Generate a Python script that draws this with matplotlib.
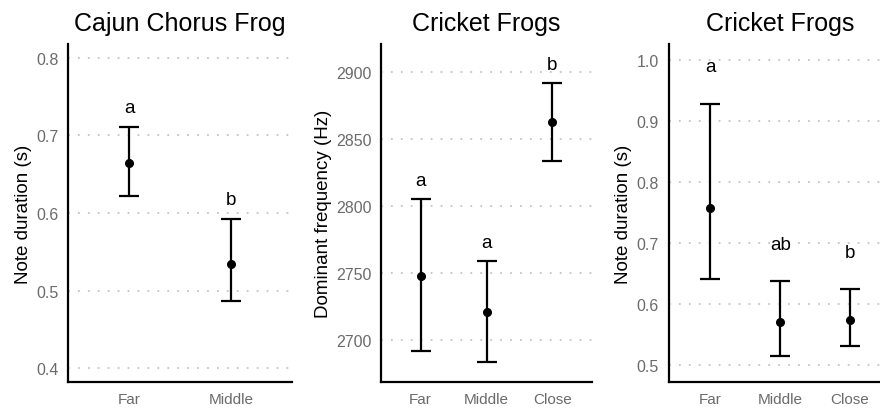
import matplotlib
matplotlib.use("Agg")
import matplotlib.pyplot as plt

plt.rcParams['font.family'] = ['Liberation Sans', 'DejaVu Sans']

# Panel 1: Cajun Chorus Frog, note duration
p1_cats = ["Far", "Middle"]
p1_mean = [0.664, 0.534]
p1_low = [0.622, 0.487]
p1_high = [0.711, 0.592]
p1_letters = ["a", "b"]
p1_ticks = [0.4, 0.5, 0.6, 0.7, 0.8]

# Panel 2: Cricket Frogs, dominant frequency
p2_cats = ["Far", "Middle", "Close"]
p2_mean = [2748, 2721, 2863]
p2_low = [2691.5, 2683.5, 2833.5]
p2_high = [2805, 2759, 2892]
p2_letters = ["a", "a", "b"]
p2_ticks = [2700, 2750, 2800, 2850, 2900]

# Panel 3: Cricket Frogs, note duration
p3_cats = ["Far", "Middle", "Close"]
p3_mean = [0.758, 0.570, 0.574]
p3_low = [0.641, 0.514, 0.531]
p3_high = [0.928, 0.637, 0.624]
p3_letters = ["a", "ab", "b"]
p3_ticks = [0.5, 0.6, 0.7, 0.8, 0.9, 1.0]

W, H = 880, 410
fig = plt.figure(figsize=(W / 100, H / 100), dpi=100)

def px_axes(left, right, top, bottom):
    return fig.add_axes([left / W, (H - bottom) / H, (right - left) / W, (bottom - top) / H])

panels = [
    dict(rect=(68, 292, 45, 383), cats=p1_cats, mean=p1_mean, low=p1_low, high=p1_high,
         letters=p1_letters, ticks=p1_ticks, ylim=(0.382, 0.818), off=0.025,
         title="Cajun Chorus Frog", ylabel="Note duration (s)", fmt="{:.1f}"),
    dict(rect=(381, 592, 45, 383), cats=p2_cats, mean=p2_mean, low=p2_low, high=p2_high,
         letters=p2_letters, ticks=p2_ticks, ylim=(2668.5, 2921), off=14,
         title="Cricket Frogs", ylabel="Dominant frequency (Hz)", fmt="{:.0f}"),
    dict(rect=(668.5, 892, 45, 383), cats=p3_cats, mean=p3_mean, low=p3_low, high=p3_high,
         letters=p3_letters, ticks=p3_ticks, ylim=(0.472, 1.026), off=0.061,
         title="Cricket Frogs", ylabel="Note duration (s)", fmt="{:.1f}"),
]

for p in panels:
    ax = px_axes(*p["rect"])
    x = list(range(1, len(p["cats"]) + 1))
    yerr = [[m - l for m, l in zip(p["mean"], p["low"])],
            [h - m for m, h in zip(p["mean"], p["high"])]]
    ax.errorbar(x, p["mean"], yerr=yerr, fmt='o', color='black', ms=5.5,
                elinewidth=1.6, capsize=7, capthick=1.6, zorder=3)
    for xi, hi, lt in zip(x, p["high"], p["letters"]):
        ax.text(xi, hi + p["off"], lt, ha='center', va='center', fontsize=13.5, color='black')
    ax.set_xlim(0.4, len(x) + 0.6)
    ax.set_ylim(*p["ylim"])
    ax.set_xticks(x)
    ax.set_xticklabels(p["cats"])
    ax.set_yticks(p["ticks"])
    ax.set_yticklabels([p["fmt"].format(t) for t in p["ticks"]])
    ax.tick_params(length=0, labelcolor='#6b6b6b')
    ax.tick_params(axis='y', labelsize=11.5, pad=7)
    ax.tick_params(axis='x', labelsize=11, pad=7)
    ax.yaxis.grid(True, color='#c4c4c4', linestyle=(0, (1, 4.5)), linewidth=1.3)
    ax.xaxis.grid(False)
    ax.set_axisbelow(True)
    for s in ['top', 'right']:
        ax.spines[s].set_visible(False)
    for s in ['left', 'bottom']:
        ax.spines[s].set_linewidth(1.6)
        ax.spines[s].set_color('black')
    ax.set_ylabel(p["ylabel"], fontsize=13.5, labelpad=3)
    ax.set_title(p["title"], fontsize=18, pad=10)
    ax.patch.set_alpha(0)

fig.savefig("out.png", dpi=100)
